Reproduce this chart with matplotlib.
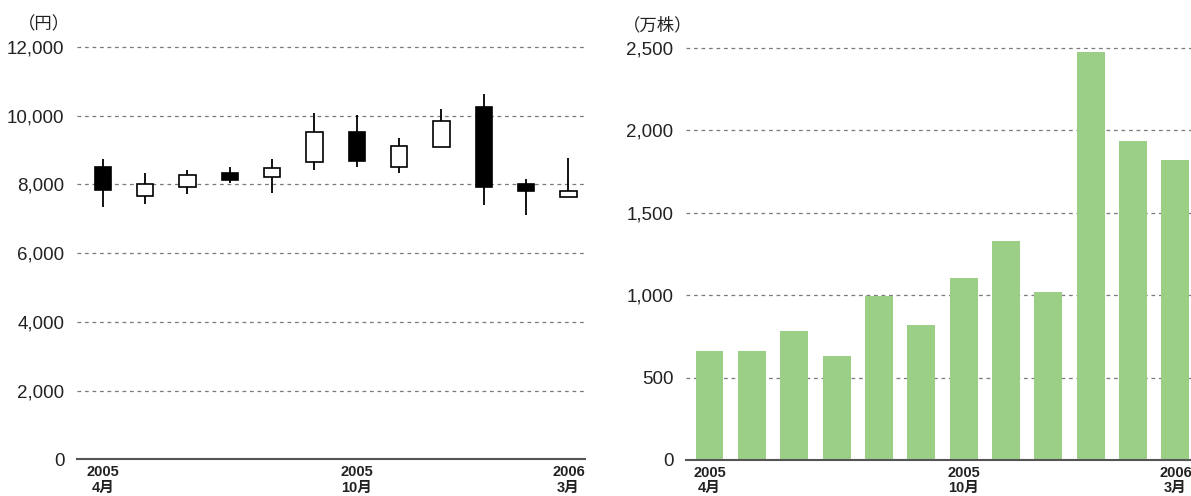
import numpy as np
import matplotlib
matplotlib.use("Agg")
import matplotlib.pyplot as plt

# 月次データ 2005年4月〜2006年3月
months = ["2005\n4月", "", "", "", "", "", "2005\n10月", "", "", "", "", "2006\n3月"]
opens = [8495, 7660, 7913, 8320, 8223, 8641, 9534, 8495, 9078, 10253, 8010, 7621]
closes = [7835, 8000, 8272, 8126, 8485, 9515, 8680, 9117, 9855, 7932, 7806, 7796]
highs = [8730, 8320, 8417, 8495, 8748, 10088, 10010, 9350, 10204, 10632, 8146, 8767]
lows = [7330, 7445, 7718, 8049, 7738, 8417, 8515, 8320, 9078, 7408, 7097, 7621]
volume = [660, 660, 781, 633, 995, 818, 1102, 1330, 1018, 2474, 1934, 1819]

price_ticks = [0, 2000, 4000, 6000, 8000, 10000, 12000]
vol_ticks = [0, 500, 1000, 1500, 2000, 2500]

num_font = ["Liberation Sans Narrow", "Liberation Sans", "Noto Sans CJK JP"]
cjk_font = ["Noto Sans CJK JP", "DejaVu Sans"]
txt_col = "#222222"
W, H = 1191, 496

fig = plt.figure(figsize=(W / 100, H / 100), dpi=100)


def style_axis(ax, ticks, ylim):
    ax.set_ylim(0, ylim)
    ax.set_yticks(ticks)
    ax.set_yticklabels([f"{t:,}" for t in ticks], fontfamily=num_font,
                       fontsize=13.5, color=txt_col)
    ax.set_xticks(x)
    ax.set_xticklabels(months, fontfamily=num_font, fontsize=10.5,
                       fontweight="bold", color=txt_col, linespacing=1.15)
    ax.tick_params(axis="both", length=0)
    ax.tick_params(axis="y", pad=9)
    ax.tick_params(axis="x", pad=4)
    for s in ["top", "left", "right"]:
        ax.spines[s].set_visible(False)
    ax.spines["bottom"].set_color("#555555")
    ax.spines["bottom"].set_linewidth(1.5)
    ax.spines["bottom"].set_zorder(5)
    for t in ticks[1:]:
        ax.axhline(t, color="#7a7a7a", lw=0.9, ls=(0, (3, 3)), zorder=0,
                   clip_on=False)


x = np.arange(len(opens))

# --- 株価（ローソク足） ---
ax1 = fig.add_axes([77 / W, 1 - 459.3 / H, (585 - 77) / W, (459.3 - 47) / H])
ax1.set_xlim(-0.61, 11.39)
o = np.array(opens)
c = np.array(closes)
ax1.vlines(x, lows, highs, color="black", lw=1.3, zorder=2)
down = o > c
ax1.bar(x, np.abs(c - o), bottom=np.minimum(o, c), width=0.38,
        color=np.where(down, "black", "white"), edgecolor="black",
        linewidth=1.2, zorder=3)
style_axis(ax1, price_ticks, 12000)

# --- 出来高 ---
ax2 = fig.add_axes([686 / W, 1 - 460 / H, (1196.6 - 686) / W, (460 - 47.7) / H])
ax2.set_xlim(-0.555, 11.5)
ax2.bar(x, volume, width=0.66, color="#9ccf86", zorder=2)
style_axis(ax2, vol_ticks, 2500)

fig.text(18 / W, 1 - 24 / H, "（円）", fontfamily=cjk_font, fontsize=12.5,
         color=txt_col, va="center", ha="left")
fig.text(623 / W, 1 - 25 / H, "（万株）", fontfamily=cjk_font, fontsize=12.5,
         color=txt_col, va="center", ha="left")

fig.savefig("out.png", dpi=100)
